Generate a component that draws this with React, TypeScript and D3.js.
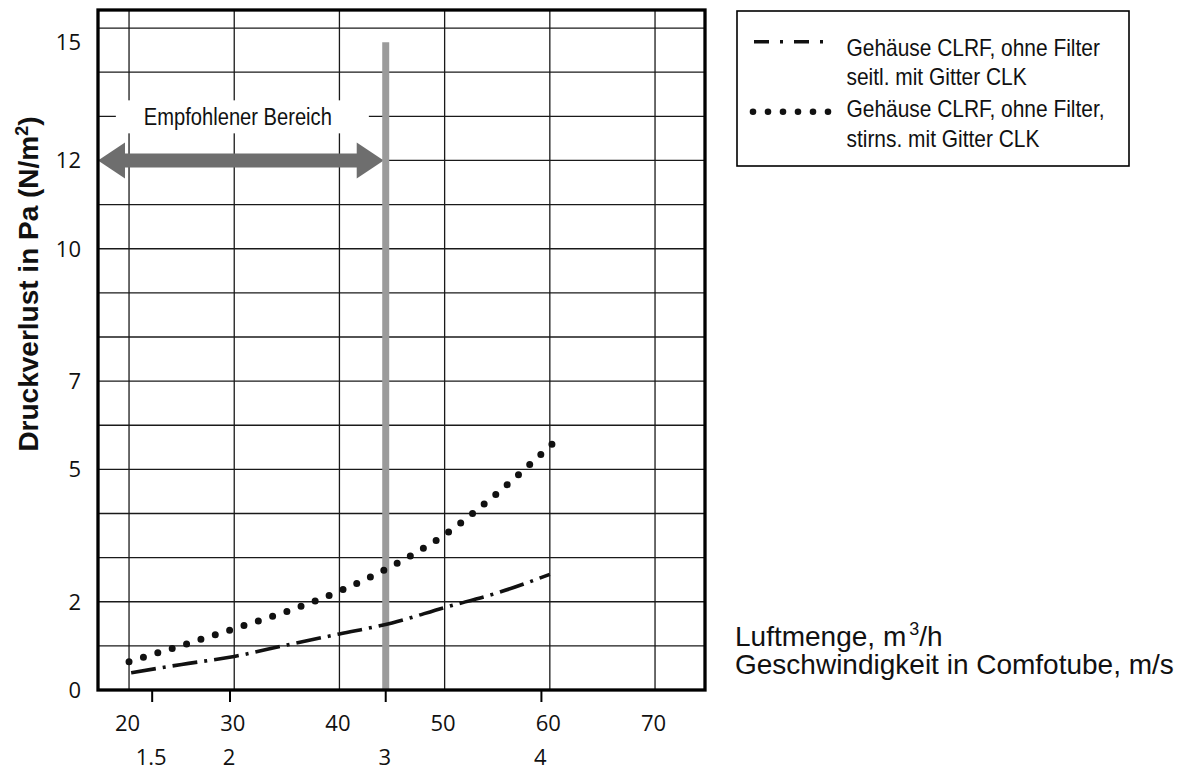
import React from 'react';
import * as d3 from 'd3';

// ---------------- data ----------------
const flowTicks = [20, 30, 40, 50, 60, 70];            // Luftmenge, m³/h
const velocityTicks = [1.5, 2, 3, 4];                   // Geschwindigkeit, m/s
const pressureGrid = [1, 2, 3, 4, 5, 6, 7, 8, 9, 10, 11, 12, 13, 14, 15];
const pressureTickLabels = [0, 2, 5, 7, 10, 12, 15];
const flowPerVelocity = 14.8;                           // m³/h per m/s in Comfotube
const recommendedMaxVelocity = 3;                       // m/s
const recommendedArrowPressure = 12;
const recommendedLabelPressure = 13;
const recommendedLineTopPressure = 14.68;

// Gehäuse CLRF, ohne Filter, seitl. mit Gitter CLK (dash-dot)
const seitlFlow = [20.2, 25, 30, 35, 40, 45, 50, 55, 60];
const seitlPressure = [0.39, 0.58, 0.76, 1.02, 1.27, 1.52, 1.87, 2.2, 2.62];
// Gehäuse CLRF, ohne Filter, stirns. mit Gitter CLK (dotted)
const stirnFlow = [20, 25, 30, 35, 40, 45, 50, 55, 60.2];
const stirnPressure = [0.64, 1.01, 1.39, 1.78, 2.24, 2.81, 3.52, 4.46, 5.57];
const stirnDotIntervals = 32;

const legendSeitl = ['Gehäuse CLRF, ohne Filter', 'seitl. mit Gitter CLK'];
const legendStirn = ['Gehäuse CLRF, ohne Filter,', 'stirns. mit Gitter CLK'];

// ---------------- layout ----------------
const W = 1185;
const H = 774;
const plot = { left: 98, right: 705, top: 10, bottom: 690 };
const sans = '"Liberation Sans", Arial, Helvetica, sans-serif';
const tickFont = '"Open Sans", "Noto Sans", sans-serif';
const ink = '#111';
const condense = 0.91;

export default function App() {
  const x = d3.scaleLinear().domain([17.05, 74.75]).range([plot.left, plot.right]);
  const y = d3.scaleLinear().domain([0, 15.41]).range([plot.bottom, plot.top]);
  const xv = (v: number) => x(v * flowPerVelocity);

  const line = d3
    .line<[number, number]>()
    .x((d) => x(d[0]))
    .y((d) => y(d[1]))
    .curve(d3.curveMonotoneX);

  const seitlPath = line(seitlFlow.map((f, i) => [f, seitlPressure[i]] as [number, number])) || '';
  const stirnPath = line(stirnFlow.map((f, i) => [f, stirnPressure[i]] as [number, number])) || '';

  const redX = xv(recommendedMaxVelocity);
  const ay = y(recommendedArrowPressure);
  const aL = plot.left;
  const aR = redX - 2;
  const head = 27;
  const hh = 18;
  const sh = 7;
  const arrowPts = [
    [aL, ay],
    [aL + head, ay - hh],
    [aL + head, ay - sh],
    [aR - head, ay - sh],
    [aR - head, ay - hh],
    [aR, ay],
    [aR - head, ay + hh],
    [aR - head, ay + sh],
    [aL + head, ay + sh],
    [aL + head, ay + hh],
  ]
    .map((p) => p.join(','))
    .join(' ');

  const labelY = y(recommendedLabelPressure);
  const labelCx = (aL + redX) / 2;

  const legendX = 846.5;
  const legendBaselines = [56, 84.5, 117, 147];
  const legendTexts = [...legendSeitl, ...legendStirn];

  return (
    <svg
      width={W}
      height={H}
      viewBox={`0 0 ${W} ${H}`}
      style={{ position: 'absolute', left: 0, top: 0, background: '#fff' }}
    >
      <rect x={0} y={0} width={W} height={H} fill="#fff" />

      {/* grid */}
      <g stroke="#1a1a1a" strokeWidth={1.3}>
        {flowTicks.map((f) => (
          <line key={'v' + f} x1={x(f)} x2={x(f)} y1={plot.top} y2={plot.bottom} />
        ))}
        {pressureGrid.map((p) => (
          <line key={'h' + p} x1={plot.left} x2={plot.right} y1={y(p)} y2={y(p)} />
        ))}
      </g>

      {/* recommended range label */}
      <rect x={labelCx - 126} y={labelY - 16} width={253} height={33} fill="#fff" />
      <text
        x={labelCx - 4}
        y={labelY + 8.5}
        textAnchor="middle"
        fontFamily={sans}
        fontSize={23}
        fill={ink}
        textLength={188}
        lengthAdjust="spacingAndGlyphs"
      >
        Empfohlener Bereich
      </text>

      {/* arrow */}
      <polygon points={arrowPts} fill="#6e6e6e" />

      {/* recommended max line */}
      <line
        x1={redX}
        x2={redX}
        y1={y(recommendedLineTopPressure)}
        y2={plot.bottom}
        stroke="#9b9b9b"
        strokeWidth={7}
      />

      {/* curves */}
      <path d={seitlPath} fill="none" stroke={ink} strokeWidth={3.6} strokeDasharray="25 7 3 7" />
      <path
        d={stirnPath}
        fill="none"
        stroke={ink}
        strokeWidth={7}
        strokeLinecap="round"
        pathLength={stirnDotIntervals}
        strokeDasharray="0 0.99999"
      />

      {/* frame */}
      <rect
        x={plot.left}
        y={plot.top}
        width={plot.right - plot.left}
        height={plot.bottom - plot.top}
        fill="none"
        stroke="#000"
        strokeWidth={3.3}
      />

      {/* velocity tick marks */}
      <g stroke="#000" strokeWidth={2}>
        {velocityTicks.map((v) => (
          <line key={'vt' + v} x1={xv(v)} x2={xv(v)} y1={plot.bottom} y2={plot.bottom + 12} />
        ))}
      </g>

      {/* y tick labels */}
      <g fontFamily={tickFont} fontSize={22} fill={ink} textAnchor="end">
        {pressureTickLabels.map((p) => (
          <text key={'yl' + p} x={81} y={p === 15 ? y(recommendedLineTopPressure) : y(p)} dy="0.36em">
            {p}
          </text>
        ))}
      </g>

      {/* x tick labels */}
      <g fontFamily={tickFont} fontSize={22} fill={ink} textAnchor="middle">
        {flowTicks.map((f) => (
          <text key={'xl' + f} x={x(f) - 1.5} y={723} dy="0.36em">
            {f}
          </text>
        ))}
        {velocityTicks.map((v) => (
          <text key={'vl' + v} x={xv(v) - 1} y={757} dy="0.36em">
            {v}
          </text>
        ))}
      </g>

      {/* y axis title */}
      <text
        transform="translate(37.5,284) rotate(-90)"
        textAnchor="middle"
        fontFamily={sans}
        fontWeight="bold"
        fontSize={28}
        fill={ink}
      >
        Druckverlust in Pa (N/m
        <tspan dy={-10} fontSize={18}>2</tspan>
        <tspan dy={10}>)</tspan>
      </text>

      {/* x axis titles */}
      <g fontFamily={sans} fontSize={28} fill={ink}>
        <text x={735} y={646}>
          Luftmenge, m
          <tspan dx={3} dy={-11} fontSize={18}>3</tspan>
          <tspan dy={11}>/h</tspan>
        </text>
        <text x={735} y={674}>Geschwindigkeit in Comfotube, m/s</text>
      </g>

      {/* legend */}
      <rect x={737} y={11} width={392} height={155} fill="#fff" stroke="#000" strokeWidth={1.6} />
      <line x1={754} x2={827} y1={41.7} y2={41.7} stroke={ink} strokeWidth={3.5} strokeDasharray="15 11 3 11" />
      <line
        x1={753}
        x2={828.5}
        y1={111.7}
        y2={111.7}
        stroke={ink}
        strokeWidth={6.6}
        strokeLinecap="round"
        strokeDasharray="0 15"
      />
      <g fontFamily={sans} fontSize={23} fill={ink}>
        {legendTexts.map((t, i) => (
          <text key={'lg' + i} transform={`translate(${legendX},${legendBaselines[i]}) scale(${condense},1)`}>
            {t}
          </text>
        ))}
      </g>
    </svg>
  );
}
